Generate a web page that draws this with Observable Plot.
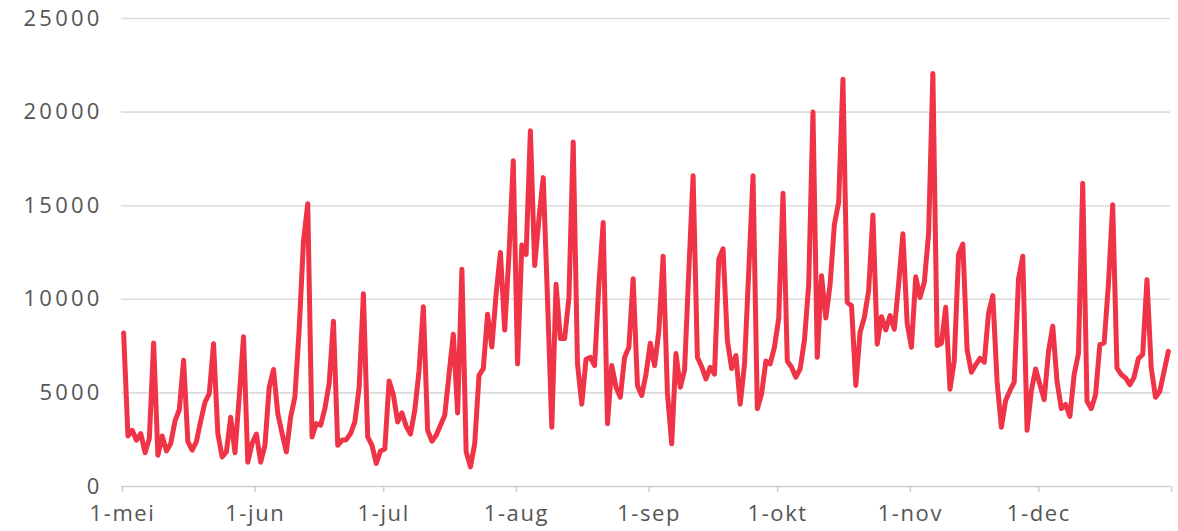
<!DOCTYPE html>
<html><head><meta charset="utf-8">
<script src="https://cdn.jsdelivr.net/npm/d3@7"></script>
<script src="https://cdn.jsdelivr.net/npm/@observablehq/plot@0.6"></script>
<style>
body{margin:0;background:#fff}
g[aria-label="y-axis tick label"]{letter-spacing:3.2px}
g[aria-label="x-axis tick label"]{letter-spacing:1.6px}
</style>
</head><body><div id="chart"></div>
<script>
const startDate = "2021-05-01T12:00:00Z";
const values = [
8200,2700,3000,2470,2830,1800,2560,7670,1670,2700,1900,2300,3500,4100,6740,2400,1940,2400,3500,4500,4960,7630,2830,1580,1850,3700,1800,4800,8000,1300,2300,
2800,1300,2200,5300,6250,3900,2830,1850,3700,4800,8400,13100,15100,2650,3360,3270,4160,5500,8830,2200,2470,2500,2830,3450,5300,10300,2650,2200,1230,1900,
2000,5640,4900,3450,3930,3200,2800,4070,6200,9600,3000,2420,2740,3270,3800,6000,8130,3930,11600,1850,1050,2300,5940,6300,9200,7450,10300,12500,8360,12400,17400,
6550,12900,12400,19000,11800,14300,16500,10000,3170,10800,7900,7900,10100,18400,6550,4400,6800,6900,6460,10800,14100,3350,6460,5300,4770,6900,7440,11100,5400,4860,6000,
7650,6460,8300,12300,5000,2280,7100,5300,6200,11500,16600,6900,6400,5750,6370,6000,12150,12700,7800,6300,7000,4400,6500,11500,16600,4150,4950,6700,6550,7440,
9000,15660,6700,6370,5840,6280,7800,10800,20000,6900,11260,9000,10800,14000,15200,21760,9840,9660,5400,8240,9040,10460,14500,7600,9070,8360,9130,8400,10800,13500,8700,
7440,11200,10100,10900,13500,22060,7530,7650,9570,5200,6730,12400,12950,7300,6100,6500,6850,6640,9250,10200,5600,3170,4600,5120,5570,11080,12300,3000,5120,6280,
5440,4640,7200,8560,5600,4160,4380,3750,5980,7100,16200,4550,4160,4900,7580,7670,10800,15050,6330,5980,5800,5440,5840,6830,7050,11050,6330,4770,5090,6160,7220
];
const monthTicks = ["2021-05-01","2021-06-01","2021-07-01","2021-08-01","2021-09-01","2021-10-01","2021-11-01","2021-12-01","2022-01-01"];
const monthLabels = ["1-mei","1-jun","1-jul","1-aug","1-sep","1-okt","1-nov","1-dec",""];
const yTicks = [0,5000,10000,15000,20000,25000];

const start = new Date(startDate);
const data = values.map((v, i) => ({date: d3.utcDay.offset(start, i), value: v}));
const tickDates = monthTicks.map(s => new Date(s));
const labelMap = new Map(tickDates.map((d, i) => [+d, monthLabels[i]]));

const chart = Plot.plot({
  width: 1178, height: 531,
  marginLeft: 121, marginRight: 8, marginTop: 18, marginBottom: 45,
  style: {fontFamily: "'Open Sans', sans-serif", fontSize: "22px", background: "#fff", color: "#555"},
  x: {type: "utc", domain: [tickDates[0], tickDates[tickDates.length - 1]], label: null},
  y: {domain: [0, 25000], label: null},
  marks: [
    Plot.gridY(yTicks.slice(1), {stroke: "#dcdcdc", strokeOpacity: 1, strokeWidth: 1.6}),
    Plot.ruleY([0], {stroke: "#d0d0d0", strokeWidth: 1.6}),
    Plot.axisY(yTicks, {label: null, tickSize: 0, tickPadding: 19, fontSize: 22, fill: "#555", tickFormat: d => String(d)}),
    Plot.axisX(tickDates, {label: null, tickSize: 6, tickPadding: 13, fontSize: 22, fill: "#555", stroke: "#d0d0d0", strokeWidth: 1.6, dx: 1, tickFormat: d => labelMap.get(+d)}),
    Plot.line(data, {x: "date", y: "value", stroke: "#ee3446", strokeWidth: 5, strokeLinejoin: "round", strokeLinecap: "round"})
  ]
});
document.getElementById("chart").appendChild(chart);
</script>
</body></html>
